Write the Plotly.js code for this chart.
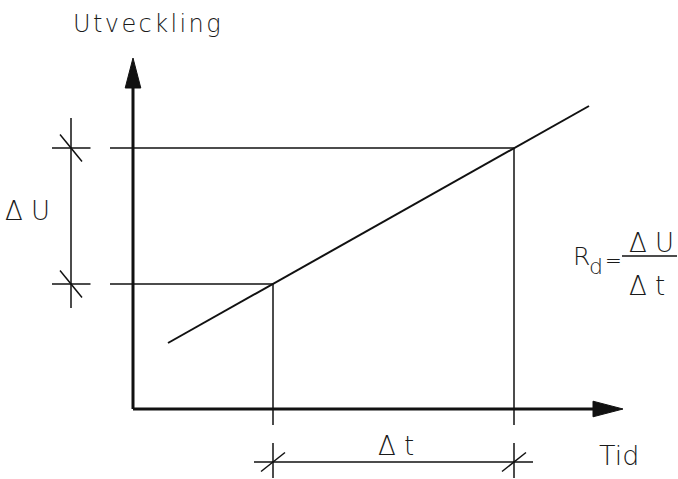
<!DOCTYPE html>
<html>
<head>
<meta charset="utf-8">
<script src="https://cdn.plot.ly/plotly-3.0.1.min.js"></script>
<style>
html,body{margin:0;padding:0;background:#fff;}
#chart{width:678px;height:479px;}
g.annotation[data-index="0"] text{letter-spacing:2.4px;}
</style>
</head>
<body>
<div id="chart"></div>
<script>
// Schematic values (arbitrary units: time along x, development along y)
const tPoints = [14.0, 38.1];          // t1, t2 (Δt ends)
const uPoints = [12.5, 26.1];          // U1, U2 (ΔU ends)
const lineT = [3.5, 45.6];             // development line, time
const lineU = [6.6, 30.3];             // development line, value
const axisTEnd = 49.0;                 // tip of time axis arrow
const axisUEnd = 35.1;                 // tip of development axis arrow
const labels = {y: 'Utveckling', x: 'Tid', dU: 'Δ U', dt: 'Δ t', R: 'R', Rsub: 'd', eq: '=', num: 'Δ U', den: 'Δ t'};

// helpers converting a pixel-like layout position to axis units (layout only)
const px = v => (v - 133) / 10;
const py = v => (409 - v) / 10;

const ink = '#111111';
const thin = {color: ink, width: 1.5};
const traces = [];
function seg(x, y, line) {
  traces.push({type: 'scatter', mode: 'lines', x: x, y: y, line: line || thin, hoverinfo: 'skip', showlegend: false});
}
function tri(x, y) {
  traces.push({type: 'scatter', mode: 'lines', x: x, y: y, fill: 'toself', fillcolor: ink, line: {color: ink, width: 1}, hoverinfo: 'skip', showlegend: false});
}

// axes
const headLen = 3.0, headHalf = 0.78;
seg([0, 0], [0, axisUEnd - headLen + 0.2], {color: ink, width: 3});
seg([0, axisTEnd - headLen + 0.2], [0, 0], {color: ink, width: 3});
tri([-headHalf, 0, headHalf, -headHalf], [axisUEnd - headLen, axisUEnd, axisUEnd - headLen, axisUEnd - headLen]);
tri([axisTEnd - headLen, axisTEnd, axisTEnd - headLen, axisTEnd - headLen], [-headHalf, 0, headHalf, -headHalf]);

// development line
seg(lineT, lineU, {color: ink, width: 2});

// horizontal guides at U1, U2 (from left of axis to the line)
for (let i = 0; i < 2; i++) {
  seg([-2.3, tPoints[i]], [uPoints[i], uPoints[i]]);
  // vertical guides at t1, t2
  seg([tPoints[i], tPoints[i]], [uPoints[i], -1.6]);
  seg([tPoints[i], tPoints[i]], [-3.4, -6.9]);
}
// ΔU dimension
const dimUx = -6.2;
seg([dimUx, dimUx], [uPoints[1] + 3.0, uPoints[0] - 2.4]);
for (let i = 0; i < 2; i++) {
  seg([dimUx - 1.9, dimUx + 1.95], [uPoints[i], uPoints[i]]);
  seg([dimUx - 1.1, dimUx + 1.1], [uPoints[i] + 1.35, uPoints[i] - 1.35]);
}
// Δt dimension
const dimTy = -5.3;
seg([tPoints[0] - 1.9, tPoints[1] + 1.9], [dimTy, dimTy]);
for (let i = 0; i < 2; i++) {
  seg([tPoints[i] - 1.2, tPoints[i] + 1.2], [dimTy - 0.95, dimTy + 0.95]);
}
// fraction bar of the formula
seg([px(622), px(677)], [py(256), py(256)], {color: ink, width: 1.4});

const fam = '"DejaVu Sans", "Liberation Sans", sans-serif';
function ann(text, x, y, size) {
  return {text: text, x: x, y: y, xref: 'x', yref: 'y', showarrow: false, xanchor: 'center', yanchor: 'middle',
          font: {family: fam, size: size, color: '#1a1a1a', weight: 200}};
}
const annotations = [
  ann(labels.y, px(147.5), py(24), 24),
  ann(labels.x, px(619), py(455), 27),
  ann(labels.dU, dimUx - 4.4, (uPoints[0] + uPoints[1]) / 2 + 0.5, 26),
  ann(labels.dt, (tPoints[0] + tPoints[1]) / 2 + 0.25, py(446), 26),
  ann(labels.R, px(581), py(256), 25),
  ann(labels.Rsub, px(596), py(266), 22),
  ann(labels.eq, px(613), py(260), 20),
  ann(labels.num, px(651), py(243), 26),
  ann(labels.den, px(647), py(286), 26)
];

const layout = {
  width: 678, height: 479,
  margin: {l: 0, r: 0, t: 0, b: 0},
  paper_bgcolor: '#fff', plot_bgcolor: '#fff',
  xaxis: {range: [-13.3, 54.5], visible: false, fixedrange: true},
  yaxis: {range: [-7.0, 40.9], visible: false, fixedrange: true},
  showlegend: false,
  annotations: annotations
};
Plotly.newPlot('chart', traces, layout, {staticPlot: true});
</script>
</body>
</html>
